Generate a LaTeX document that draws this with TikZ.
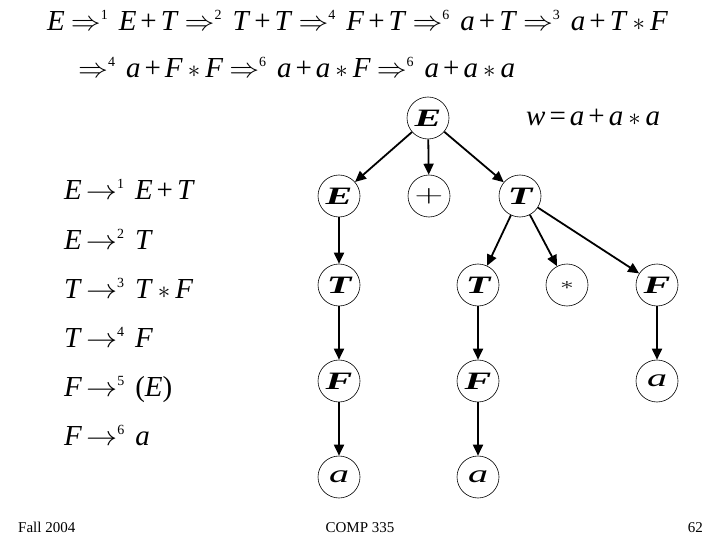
\documentclass[tikz,border=0pt]{standalone}
\usepackage{fontspec}
\setmainfont{Liberation Serif}
\usetikzlibrary{arrows.meta, positioning}

\newcommand{\V}[1]{\textit{#1}}
\newcommand{\ps}[1]{\raisebox{11pt}{\fontsize{14}{14}\selectfont #1}}
\newcommand{\dra}{\scalebox{1.2}[1.1]{$\Rightarrow$}}
\newcommand{\rla}{\scalebox{1.25}[1.1]{$\rightarrow$}}
\newcommand{\dr}[1]{\hspace{6pt}\dra\ps{#1}\hspace{11pt}}
\newcommand{\rl}[1]{\hspace{4pt}\rla\ps{#1}\hspace{11pt}}
\newcommand{\pl}{\hspace{4pt}+\hspace{4pt}}
\newcommand{\st}{\hspace{5pt}$\ast$\hspace{5pt}}
\newcommand{\wide}[1]{\scalebox{1.6}[1]{#1}}

\begin{document}
\begin{tikzpicture}[
    x=1pt, y=-1pt,
    sym/.style={circle, draw=black, line width=0.6pt, minimum size=42pt, inner sep=0pt, font=\fontsize{25}{25}\selectfont\bfseries\itshape},
    leaf/.style={sym, font=\fontsize{25}{25}\selectfont\itshape},
    op/.style={sym, font=\fontsize{24}{24}\selectfont},
    formula/.style={anchor=base west, inner sep=0pt, font=\fontsize{29}{29}\selectfont},
    footer/.style={anchor=base, inner sep=0pt, font=\fontsize{15}{15}\selectfont},
    derive/.style={line width=1.8pt, -{Triangle[length=11pt, width=10pt]}}
]
\useasboundingbox (0,0) rectangle (720,540);
% derivation
\node[formula] (line1) at (47,31) {\V{E}\dr{1}\V{E}\pl\V{T}\dr{2}\V{T}\pl\V{T}\dr{4}\V{F}\pl\V{T}\dr{6}\V{a}\pl\V{T}\dr{3}\V{a}\pl\V{T}\st\V{F}};
\node[formula] (line2) at (78,78) {\dra\ps{4}\hspace{11pt}\V{a}\pl\V{F}\st\V{F}\dr{6}\V{a}\pl\V{a}\st\V{F}\dr{6}\V{a}\pl\V{a}\st\V{a}};
\node[formula] (word) at (526,126) {\V{w}\hspace{4pt}=\hspace{4pt}\V{a}\pl\V{a}\st\V{a}};
% grammar
\node[formula] (rule1) at (64,200) {\V{E}\rl{1}\V{E}\pl\V{T}};
\node[formula] (rule2) at (64,249) {\V{E}\rl{2}\V{T}};
\node[formula] (rule3) at (64,298) {\V{T}\rl{3}\V{T}\st\V{F}};
\node[formula] (rule4) at (64,347) {\V{T}\rl{4}\V{F}};
\node[formula] (rule5) at (64,396) {\V{F}\rl{5}(\V{E})};
\node[formula] (rule6) at (64,445) {\V{F}\rl{6}\V{a}};
% parse tree
\node[sym] (root) at (428,118) {\wide{E}};
\node[sym] (e1) at (339,196) {\wide{E}};
\node[op] (plus) at (429,196) {\wide{$+$}};
\node[sym] (t1) at (520,196) {\wide{T}};
\node[sym] (t2) at (339,285) {\wide{T}};
\node[sym] (t3) at (478,285) {\wide{T}};
\node[op, font=\fontsize{16}{16}\selectfont] (times) at (567,285) {\wide{$\ast$}};
\node[sym] (f3) at (657,285) {\wide{F}};
\node[sym] (f1) at (339,381) {\wide{F}};
\node[sym] (f2) at (478,381) {\wide{F}};
\node[leaf] (a3) at (657,381) {\wide{a}};
\node[leaf] (a1) at (339,477) {\wide{a}};
\node[leaf] (a2) at (478,477) {\wide{a}};
\draw[derive] (root) -- (e1);
\draw[derive] (root) -- (plus);
\draw[derive] (root) -- (t1);
\draw[derive] (e1) -- (t2);
\draw[derive] (t2) -- (f1);
\draw[derive] (f1) -- (a1);
\draw[derive] (t1) -- (t3);
\draw[derive] (t1) -- (times);
\draw[derive] (t1) -- (f3);
\draw[derive] (t3) -- (f2);
\draw[derive] (f2) -- (a2);
\draw[derive] (f3) -- (a3);
% footer
\node[footer, anchor=base west] (term) at (18,532) {Fall 2004};
\node[footer] (course) at (360,532) {COMP 335};
\node[footer, anchor=base east] (page) at (703,532) {62};
\end{tikzpicture}
\end{document}
